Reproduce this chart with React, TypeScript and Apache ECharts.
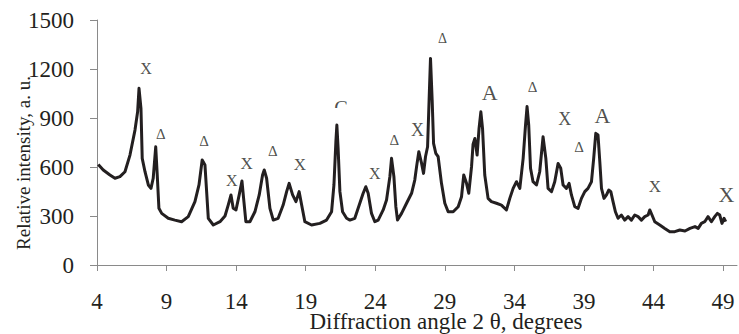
import React, { useEffect, useRef } from "react";
import * as echarts from "echarts";

// Diffraction angle 2θ (degrees)
const angles = [
  4.09, 4.45, 4.93, 5.29, 5.65, 6.01, 6.37, 6.73, 6.92, 7.02, 7.16, 7.25, 7.45, 7.69, 7.88, 8.04, 8.22, 8.33, 8.45, 8.65,
  9.12, 9.6, 10.08, 10.56, 11.04, 11.33, 11.56, 11.76, 11.88, 12.0, 12.36, 12.84, 13.2, 13.43, 13.63, 13.79, 13.99, 14.22,
  14.42, 14.56, 14.7, 14.99, 15.35, 15.66, 15.9, 16.02, 16.19, 16.43, 16.67, 17.02, 17.38, 17.63, 17.81, 18.06, 18.3,
  18.53, 18.71, 18.94, 19.42, 20.02, 20.5, 20.86, 21.03, 21.17, 21.24, 21.33, 21.46, 21.65, 21.94, 22.18, 22.53, 22.89,
  23.13, 23.32, 23.49, 23.73, 23.97, 24.21, 24.57, 24.81, 25.05, 25.17, 25.34, 25.48, 25.6, 25.89, 26.25, 26.61, 26.84,
  26.97, 27.13, 27.33, 27.47, 27.61, 27.76, 27.87, 27.97, 28.09, 28.19, 28.35, 28.52, 28.76, 29.0, 29.24, 29.6, 29.96,
  30.2, 30.36, 30.56, 30.72, 30.92, 31.03, 31.16, 31.32, 31.46, 31.59, 31.71, 31.87, 32.11, 32.35, 32.71, 33.07, 33.43,
  33.67, 33.91, 34.15, 34.39, 34.63, 34.8, 34.91, 35.03, 35.16, 35.34, 35.59, 35.82, 36.06, 36.26, 36.42, 36.67, 36.9,
  37.14, 37.33, 37.5, 37.74, 37.93, 38.1, 38.34, 38.58, 38.82, 39.06, 39.29, 39.54, 39.7, 39.85, 40.01, 40.14, 40.26,
  40.44, 40.62, 40.78, 40.93, 41.09, 41.26, 41.45, 41.69, 41.93, 42.17, 42.41, 42.65, 42.89, 43.13, 43.37, 43.61, 43.73,
  43.89, 44.09, 44.45, 44.81, 45.17, 45.53, 45.89, 46.26, 46.62, 46.98, 47.21, 47.44, 47.68, 47.92, 48.16, 48.4, 48.59,
  48.76, 48.92, 49.07, 49.19,
];

// Relative intensity (a. u.)
const intensities = [
  616, 582, 551, 531, 541, 571, 673, 826, 938, 1082, 959, 653, 571, 490, 469, 531, 724, 551, 347, 316,
  286, 275, 265, 296, 388, 490, 643, 612, 449, 286, 245, 265, 300, 367, 429, 347, 337, 429,
  514, 388, 265, 265, 326, 429, 551, 582, 531, 347, 275, 286, 367, 449, 500, 429, 388,
  449, 367, 265, 245, 255, 275, 326, 490, 755, 857, 714, 449, 326, 286, 275, 286, 378,
  439, 479, 439, 316, 265, 275, 337, 398, 541, 653, 541, 357, 275, 316, 378, 439, 520,
  602, 694, 622, 561, 663, 724, 1010, 1265, 1010, 745, 684, 663, 500, 378, 326, 326, 357,
  418, 551, 500, 439, 602, 740, 775, 673, 837, 938, 837, 551, 408, 388, 378, 367, 337,
  408, 469, 510, 469, 653, 857, 970, 857, 592, 510, 490, 571, 785, 653, 469, 449, 510,
  622, 592, 490, 469, 500, 429, 357, 347, 408, 449, 469, 510, 653, 806, 796, 632, 469,
  408, 429, 459, 449, 388, 326, 286, 306, 275, 296, 275, 306, 296, 275, 296, 306, 337,
  306, 265, 245, 224, 204, 204, 214, 208, 224, 235, 224, 255, 265, 296, 265, 296, 316,
  306, 255, 286, 265,
];

// Peak annotations
const peakTexts = ["X", "Δ", "Δ", "X", "X", "Δ", "X", "G", "X", "Δ", "X", "Δ", "A", "Δ", "X", "Δ", "A", "X", "X"];
const peakAngles = [7.52, 8.58, 11.69, 13.68, 14.75, 16.64, 18.58, 21.58, 23.97, 25.37, 27.04, 28.83, 32.23, 35.3, 37.62, 38.65, 40.33, 44.09, 49.24];
const peakValues = [1204, 802, 761, 520, 624, 698, 618, 964, 563, 768, 826, 1388, 1055, 1092, 894, 721, 918, 479, 429];
const peakFontSizes = [16, 15, 15, 16, 17, 15, 17, 20, 16, 15, 18, 14, 22, 15, 18, 15, 22, 17, 22];

const xTicks = [4, 9, 14, 19, 24, 29, 34, 39, 44, 49];
const yTicks = [0, 300, 600, 900, 1200, 1500];

const FONT = "'Liberation Serif', 'Times New Roman', serif";
const INK = "#231f20";
const AXIS = "#8a8a8a";

export default function App() {
  const ref = useRef<HTMLDivElement>(null);

  useEffect(() => {
    if (!ref.current) return;
    const chart = echarts.init(ref.current, undefined, { renderer: "svg" });
    const lineData = angles.map((a, i) => [a, intensities[i]]);
    const peakData = peakTexts.map((t, i) => ({
      name: t,
      value: [peakAngles[i], peakValues[i]],
      label: { fontSize: peakFontSizes[i] },
    }));
    chart.setOption({
      animation: false,
      backgroundColor: "#ffffff",
      textStyle: { fontFamily: FONT },
      grid: { left: 97, right: 2, top: 20, bottom: 69, containLabel: false },
      xAxis: {
        type: "value",
        min: 4,
        max: 50,
        interval: 5,
        splitLine: { show: false },
        axisLine: { show: true, onZero: false, lineStyle: { color: AXIS, width: 1 } },
        axisTick: { show: true, length: 6, customValues: xTicks, lineStyle: { color: AXIS } },
        axisLabel: {
          customValues: xTicks,
          margin: 25,
          fontSize: 23,
          fontFamily: FONT,
          color: INK,
          formatter: (v: number) => String(v),
        },
      },
      yAxis: {
        type: "value",
        min: 0,
        max: 1500,
        interval: 300,
        splitLine: { show: false },
        axisLine: { show: true, lineStyle: { color: AXIS, width: 1 } },
        axisTick: { show: true, length: 7, lineStyle: { color: AXIS } },
        axisLabel: {
          customValues: yTicks,
          margin: 23,
          fontSize: 23,
          fontFamily: FONT,
          color: INK,
          formatter: (v: number) => String(v),
        },
      },
      series: [
        {
          type: "line",
          data: lineData,
          showSymbol: false,
          symbol: "none",
          lineStyle: { color: INK, width: 3, join: "round" },
          z: 2,
        },
        {
          type: "scatter",
          data: peakData,
          symbolSize: 0,
          silent: true,
          z: 3,
          label: {
            show: true,
            position: "inside",
            formatter: "{b}",
            fontFamily: FONT,
            color: INK,
            align: "center",
            verticalAlign: "middle",
          },
        },
      ],
      graphic: [
        {
          type: "rect",
          z: 100,
          shape: { x: 330, y: 108, width: 24, height: 9 },
          style: { fill: "#ffffff" },
        },
        {
          type: "text",
          x: 23,
          y: 163,
          rotation: Math.PI / 2,
          style: {
            text: "Relative intensity, a. u.",
            fontSize: 19,
            fontFamily: FONT,
            fill: INK,
            align: "center",
            verticalAlign: "middle",
          },
        },
        {
          type: "text",
          x: 446,
          y: 321,
          style: {
            text: "Diffraction angle 2 θ, degrees",
            fontSize: 23,
            fontFamily: FONT,
            fill: INK,
            align: "center",
            verticalAlign: "middle",
          },
        },
      ],
    });
    return () => chart.dispose();
  }, []);

  return (
    <div
      ref={ref}
      style={{ position: "fixed", left: 0, top: 0, width: 739, height: 334, background: "#fff" }}
    />
  );
}
